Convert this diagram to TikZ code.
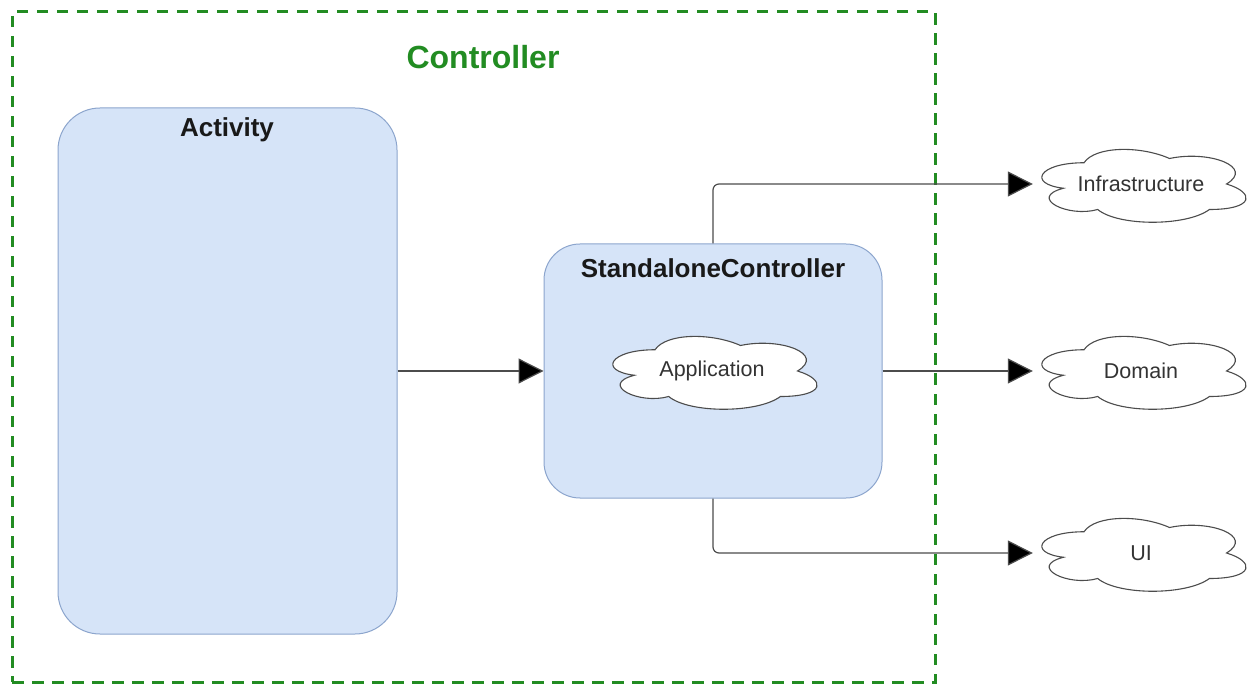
\documentclass[tikz,border=0pt]{standalone}
\usepackage{fontspec}
\setmainfont{Liberation Sans}
\usetikzlibrary{arrows.meta}
\definecolor{boxfill}{RGB}{214,228,248}
\definecolor{boxline}{RGB}{140,165,205}
\definecolor{dashgreen}{RGB}{34,140,34}
\newcommand{\mxcloudat}[1]{%
  \draw[draw=black!70,fill=white,line width=1.1pt,shift={#1},x=228pt,y=-85pt]
    (0.25,0.25) .. controls (0.05,0.25) and (0,0.5) .. (0.16,0.55)
    .. controls (0,0.66) and (0.18,0.9) .. (0.31,0.8)
    .. controls (0.4,1) and (0.7,1) .. (0.8,0.8)
    .. controls (1,0.8) and (1,0.6) .. (0.875,0.5)
    .. controls (1,0.3) and (0.8,0.1) .. (0.625,0.2)
    .. controls (0.5,0.05) and (0.3,0.05) .. (0.25,0.25) -- cycle;}
\begin{document}
\begin{tikzpicture}[x=1pt,y=-1pt,
  blue box/.style={draw=boxline,fill=boxfill,line width=1pt,rounded corners=42pt},
  title/.style={font=\fontsize{26}{30}\selectfont\bfseries,text=black!90},
  cloudnode/.style={rectangle,minimum width=228pt,minimum height=85pt,inner sep=0pt,
     font=\fontsize{21.5}{26}\selectfont,text=black!80},
  link/.style={draw=black!70,line width=1.2pt,rounded corners=6pt,
     -{Triangle[length=25pt,width=25pt,fill=black]}}]
\useasboundingbox (0,0) rectangle (1253,684);
\node[draw=dashgreen,line width=3pt,dash pattern=on 11.5pt off 8.5pt,minimum width=923pt,minimum height=670pt,inner sep=0pt] (frame) at (473.5,347) {};
\node[font=\fontsize{32}{38}\selectfont\bfseries,text=dashgreen] (ctl) at (483,57) {Controller};
\node[blue box,minimum width=339pt,minimum height=526pt] (act) at (227.5,371) {};
\node[title] (actl) at (227,130) {Activity};
\node[blue box,rounded corners=36pt,minimum width=338pt,minimum height=254pt] (sc) at (713,371) {};
\node[title] (scl) at (713,268) {StandaloneController};
\mxcloudat{(598,328.5)}
\mxcloudat{(1027,141.5)}
\mxcloudat{(1027,328.5)}
\mxcloudat{(1027,510.5)}
\node[cloudnode] (app) at (712,371) {Application};
\node[cloudnode] (inf) at (1141,184) {Infrastructure};
\node[cloudnode] (dom) at (1141,371) {Domain};
\node[cloudnode] (ui) at (1141,553) {UI};
\draw[link] (act.east) -- (sc.west);
\draw[link] (sc.north) |- ([xshift=6pt]inf.west);
\draw[link] (sc.east) -- ([xshift=6pt]dom.west);
\draw[link] (sc.south) |- ([xshift=6pt]ui.west);
\end{tikzpicture}
\end{document}
